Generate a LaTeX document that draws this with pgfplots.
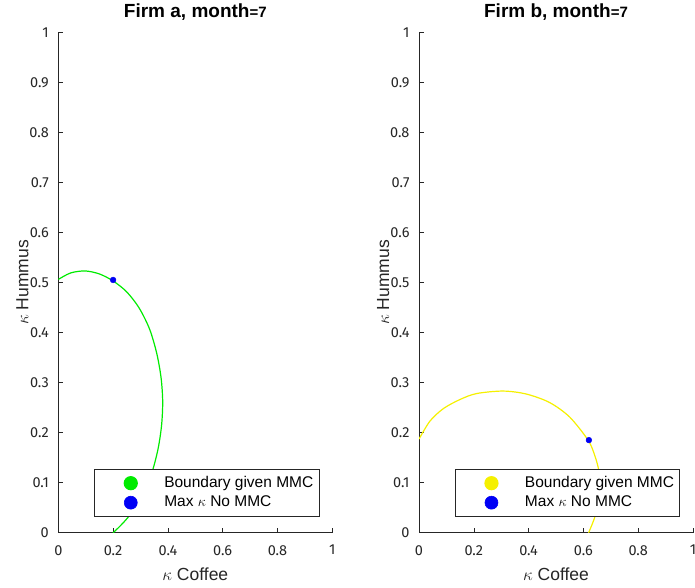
\documentclass[border=0pt]{standalone}
\usepackage{fontspec}
\setmainfont{Liberation Sans}
\newfontfamily\tickfont{Fira Sans}
\usepackage{pgfplots}
\pgfplotsset{compat=1.18}

\definecolor{mgreen}{RGB}{0,235,0}
\definecolor{myellow}{RGB}{245,240,0}
\definecolor{mblue}{RGB}{0,0,245}
\definecolor{axgray}{RGB}{38,38,38}

\pgfplotsset{
  mstyle/.style={
    scale only axis, width=274pt, height=500.5pt,
    xmin=0, xmax=1, ymin=0, ymax=1,
    axis x line*=bottom, axis y line*=left,
    axis line style={draw=axgray, line width=0.6pt, -},
    xtick={0,0.2,0.4,0.6,0.8,1},
    ytick={0,0.1,0.2,0.3,0.4,0.5,0.6,0.7,0.8,0.9,1},
    tick align=inside, major tick length=5pt,
    tick style={axgray, line width=0.6pt},
    /pgf/number format/assume math mode=true,
    ticklabel style={font=\tickfont\fontsize{14.5}{14.5}\selectfont, text=axgray},
    xticklabel style={yshift=-9pt},
    yticklabel style={xshift=-6pt},
    xlabel={$\kappa$ Coffee}, ylabel={$\kappa$ Hummus},
    label style={font=\fontsize{17.5}{17.5}\selectfont, text=axgray},
    xlabel style={at={(axis description cs:0.5,0)}, anchor=base, yshift=-48pt},
    ylabel style={at={(axis description cs:0,0.5)}, anchor=base, yshift=30pt},
    title style={font=\bfseries\fontsize{19}{19}\selectfont, text=black, yshift=2pt},
    legend style={at={(axis cs:0.132,0.127)}, anchor=north west,
      draw=axgray, line width=0.6pt, fill=white,
      font=\fontsize{15.5}{15.5}\selectfont,
      inner sep=4pt, row sep=0pt,
      nodes={text height=12.5pt, text depth=4pt, inner sep=1.5pt}},
    legend cell align=left,
    legend image code/.code={%
      \path[draw=none, fill=none] (0pt,0pt) -- (64pt,0pt);
      \fill (32pt,0pt) circle (6.5pt);},
  },
}

\begin{document}
\begin{tikzpicture}
\path[use as bounding box] (0,0) rectangle (695pt,587pt);

% Firm a
\begin{axis}[mstyle, at={(58.3pt,54.3pt)},
  title={Firm a, month{\fontsize{15}{15}\selectfont =7}}]
\addplot[mgreen, line width=1.2pt, smooth] coordinates {
  (0,0.506) (0.045,0.519) (0.098,0.523) (0.150,0.517) (0.200,0.503)
  (0.250,0.481) (0.295,0.449) (0.333,0.407) (0.359,0.359) (0.375,0.310)
  (0.381,0.262) (0.377,0.215) (0.365,0.170) (0.346,0.128) (0.320,0.089)
  (0.290,0.057) (0.255,0.031) (0.225,0.013) (0.200,0)
};
\addlegendentry{Boundary given MMC}
\addplot[mblue, only marks, mark=*, mark size=2.9pt] coordinates {(0.2,0.505)};
\addlegendentry{Max $\kappa$ No MMC}
\end{axis}

% Firm b
\begin{axis}[mstyle, at={(419pt,54.3pt)},
  title={Firm b, month{\fontsize{15}{15}\selectfont =7}}]
\addplot[myellow, line width=1.2pt, smooth] coordinates {
  (0,0.187) (0.040,0.223) (0.089,0.248) (0.149,0.266) (0.210,0.278)
  (0.307,0.283) (0.392,0.277) (0.477,0.260) (0.550,0.231) (0.617,0.185)
  (0.641,0.155) (0.656,0.125) (0.663,0.090) (0.655,0.055) (0.637,0.024)
  (0.619,0)
};
\addlegendentry{Boundary given MMC}
\addplot[mblue, only marks, mark=*, mark size=2.9pt] coordinates {(0.62,0.185)};
\addlegendentry{Max $\kappa$ No MMC}
\end{axis}
\end{tikzpicture}
\end{document}
